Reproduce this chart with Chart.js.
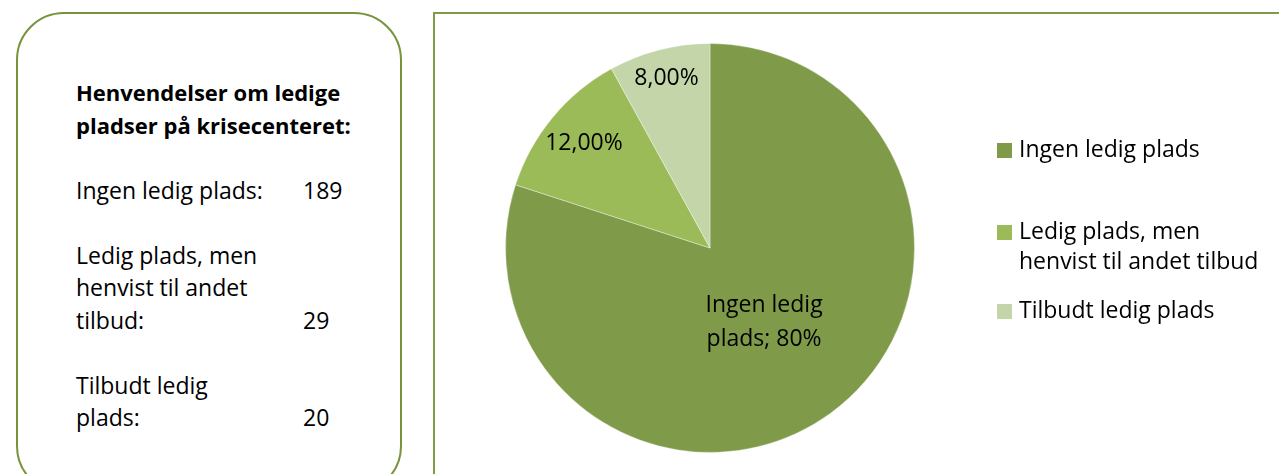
<!DOCTYPE html>
<html>
<head>
<meta charset="utf-8">
<script src="https://cdn.jsdelivr.net/npm/chart.js@4"></script>
<style>
  html, body { margin: 0; padding: 0; background: #fff; }
  body { width: 1279px; height: 474px; position: relative; overflow: hidden; font-family: "Open Sans", sans-serif; color: #000; }
  #infoBox {
    position: absolute; left: 16px; top: 12px; width: 386px; height: 482px;
    border: 2px solid #77933c; border-radius: 48px; box-sizing: border-box;
  }
  #infoText { position: absolute; left: 58px; top: 62px; font-size: 23px; line-height: 32.5px; }
  #infoText .title { font-weight: bold; font-size: 22px; margin-bottom: 32.5px; }
  #infoText .row { display: flex; align-items: flex-end; margin-bottom: 32.5px; }
  #infoText .row .lbl { width: 227px; }
  #chartPanel {
    position: absolute; left: 433px; top: 12px; width: 900px; height: 520px;
    border: 2px solid #7f9a48; box-sizing: border-box;
  }
  #pieChart { position: absolute; left: 0; top: 0; }
</style>
</head>
<body>
<div id="infoBox"><div id="infoText"></div></div>
<div id="chartPanel"></div>
<canvas id="pieChart" width="1279" height="474"></canvas>
<script>
// data
const titleLines = ['Henvendelser om ledige', 'pladser på krisecenteret:'];
const categories = ['Ingen ledig plads', 'Ledig plads, men henvist til andet tilbud', 'Tilbudt ledig plads'];
const boxLabels = [['Ingen ledig plads:'], ['Ledig plads, men', 'henvist til andet', 'tilbud:'], ['Tilbudt ledig', 'plads:']];
const counts = [189, 29, 20];
const shares = [80, 12, 8];
const shareLabels = [['Ingen ledig', 'plads; 80%'], ['12,00%'], ['8,00%']];
const legendLines = [['Ingen ledig plads'], ['Ledig plads, men', 'henvist til andet tilbud'], ['Tilbudt ledig plads']];

const colors = ['#7f9b4a', '#9bbb59', '#c4d6a9'];

// left text box
const info = document.getElementById('infoText');
let html = '<div class="title">' + titleLines.join('<br>') + '</div>';
boxLabels.forEach((lines, i) => {
    html += '<div class="row"><div class="lbl">' + lines.join('<br>') + '</div><div>' + counts[i] + '</div></div>';
});
info.innerHTML = html;

const fontFamily = '"Open Sans", sans-serif';
Chart.defaults.font.family = fontFamily;

// where the data labels sit, as a fraction of the radius
const labelRadius = [0.45, 0.8, 0.855];

const labelsPlugin = {
    id: 'sliceLabels',
    afterDatasetsDraw(chart) {
        const ctx = chart.ctx;
        const meta = chart.getDatasetMeta(0);
        ctx.save();
        ctx.font = '23px ' + fontFamily;
        ctx.fillStyle = '#000';
        ctx.textAlign = 'center';
        ctx.textBaseline = 'middle';
        meta.data.forEach((arc, i) => {
            const p = arc.getProps(['x', 'y', 'startAngle', 'endAngle', 'outerRadius'], true);
            const mid = (p.startAngle + p.endAngle) / 2;
            const r = p.outerRadius * labelRadius[i];
            const cx = p.x + Math.cos(mid) * r;
            const cy = p.y + Math.sin(mid) * r;
            const lines = shareLabels[i];
            lines.forEach((t, j) => {
                ctx.fillText(t, cx, cy + (j - (lines.length - 1) / 2) * 34);
            });
        });
        ctx.restore();
    }
};

const legendPlugin = {
    id: 'sideLegend',
    afterDraw(chart) {
        const ctx = chart.ctx;
        const rowY = [150, 232, 311];
        ctx.save();
        ctx.font = '23px ' + fontFamily;
        ctx.textBaseline = 'middle';
        chart.data.labels.forEach((lab, i) => {
            ctx.fillStyle = chart.data.datasets[0].backgroundColor[i];
            ctx.fillRect(997, rowY[i] - 7, 15, 15);
            ctx.fillStyle = '#000';
            legendLines[i].forEach((t, j) => ctx.fillText(t, 1019, rowY[i] + j * 30));
        });
        ctx.restore();
    }
};

new Chart(document.getElementById('pieChart'), {
    type: 'pie',
    data: {
        labels: categories,
        datasets: [{
            data: shares,
            backgroundColor: colors,
            borderColor: 'rgba(255,255,255,0.35)',
            borderWidth: 1
        }]
    },
    options: {
        responsive: false,
        animation: false,
        layout: { padding: { left: 505, right: 364, top: 43, bottom: 21 } },
        plugins: {
            legend: { display: false },
            tooltip: { enabled: false }
        }
    },
    plugins: [labelsPlugin, legendPlugin]
});
</script>
</body>
</html>
